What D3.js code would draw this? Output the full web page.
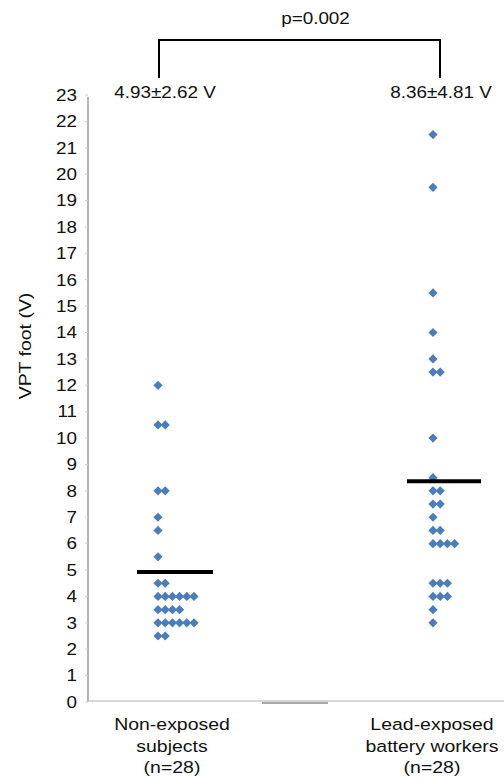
<!DOCTYPE html>
<html>
<head>
<meta charset="utf-8">
<script src="https://cdn.jsdelivr.net/npm/d3@7"></script>
<style>
  body { margin: 0; background: #fff; }
  svg text { font-family: "Liberation Sans", Arial, sans-serif; fill: #111; }
</style>
</head>
<body>
<div id="chart"></div>
<script>
// Data
var groups = ["nonExposed", "leadExposed"];
var groupLabels = [
    ["Non-exposed", "subjects", "(n=28)"],
    ["Lead-exposed", "battery workers", "(n=28)"]
];
var nonExposed = [12, 10.5, 10.5, 8, 8, 7, 6.5, 5.5, 4.5, 4.5,
    4, 4, 4, 4, 4, 4, 3.5, 3.5, 3.5, 3.5,
    3, 3, 3, 3, 3, 3, 2.5, 2.5];
var leadExposed = [21.5, 19.5, 15.5, 14, 13, 12.5, 12.5, 10, 8.5, 8, 8,
    7.5, 7.5, 7, 6.5, 6.5, 6, 6, 6, 6,
    4.5, 4.5, 4.5, 4, 4, 4, 3.5, 3];
var means = [4.93, 8.36];
var sds = [2.62, 4.81];
var pValue = "p=0.002";
var yTicks = d3.range(0, 24);
var yTitle = "VPT foot (V)";

var svgWidth = 504;
var svgHeight = 783;

var svg = d3.select("#chart")
    .append("svg")
    .attr("width", svgWidth)
    .attr("height", svgHeight);

// text in the original is a little wide, stretch it
var stretch = 1.18;

var yScale = d3.scaleLinear()
    .domain([0, 23])
    .range([702, 95]);

// category centres (under the labels)
var xScale = d3.scalePoint()
    .domain(groups)
    .range([172, 432]);

// layout tweaks per group: where the dot column starts, where the mean bar sits
var dotStart = [-14, 1];
var meanShift = [3, 12];
var meanHalf = [38, 37];

var axisColor = "#b4b4b4";

// y axis line + small ticks
svg.append("line")
    .attr("x1", 88).attr("x2", 88)
    .attr("y1", yScale(23) + 2).attr("y2", yScale(0))
    .attr("stroke", axisColor)
    .attr("stroke-width", 2);

svg.selectAll(".tick")
    .data(yTicks)
    .enter()
    .append("line")
    .attr("x1", 85).attr("x2", 88)
    .attr("y1", d => yScale(d)).attr("y2", d => yScale(d))
    .attr("stroke", "#cfcfcf")
    .attr("stroke-width", 1);

svg.selectAll(".ylab")
    .data(yTicks)
    .enter()
    .append("text")
    .attr("transform", d => `translate(77, ${yScale(d)}) scale(${stretch},1)`)
    .attr("dy", "0.36em")
    .attr("text-anchor", "end")
    .style("font-size", "16px")
    .text(d => d);

// x axis line
svg.append("line")
    .attr("x1", 88).attr("x2", svgWidth)
    .attr("y1", yScale(0) - 1).attr("y2", yScale(0) - 1)
    .attr("stroke", "#c8c8c8")
    .attr("stroke-width", 1.5);

svg.append("rect")
    .attr("x", 262).attr("y", yScale(0))
    .attr("width", 66).attr("height", 2)
    .attr("fill", "#a8a8a8");

// y title
svg.append("text")
    .attr("transform", `translate(31, 346) rotate(-90) scale(${stretch},1)`)
    .attr("text-anchor", "middle")
    .style("font-size", "16.5px")
    .text(yTitle);

// dots: values at the same level are laid side by side
var dotGap = 7.2;
var diamond = "M0,-4.6L4.6,0L0,4.6L-4.6,0Z";

[nonExposed, leadExposed].forEach(function(vals, gi) {
    var seen = {};
    var pts = vals.map(function(v) {
        var k = seen[v] || 0;
        seen[v] = k + 1;
        return { v: v, k: k };
    });
    var x0 = xScale(groups[gi]) + dotStart[gi];

    svg.append("g")
        .selectAll("path")
        .data(pts)
        .enter()
        .append("path")
        .attr("d", diamond)
        .attr("transform", d => `translate(${x0 + d.k * dotGap}, ${yScale(d.v)})`)
        .attr("fill", "#4a7dbb");

    // mean bar
    var cx = xScale(groups[gi]) + meanShift[gi];
    svg.append("line")
        .attr("x1", cx - meanHalf[gi]).attr("x2", cx + meanHalf[gi])
        .attr("y1", yScale(means[gi])).attr("y2", yScale(means[gi]))
        .attr("stroke", "#000")
        .attr("stroke-width", 4);

    // category label
    var lab = svg.append("g");
    groupLabels[gi].forEach(function(line, li) {
        lab.append("text")
            .attr("transform", `translate(${xScale(groups[gi])}, ${730 + li * 21.5}) scale(${stretch},1)`)
            .attr("text-anchor", "middle")
            .style("font-size", "16.5px")
            .text(line);
    });

    // mean ± sd
    svg.append("text")
        .attr("transform", `translate(${x0 + 7 + gi * 1}, 98) scale(${stretch},1)`)
        .attr("text-anchor", "middle")
        .style("font-size", "16px")
        .text(`${means[gi].toFixed(2)}±${sds[gi].toFixed(2)} V`);
});

// significance bracket
var bx1 = 159, bx2 = 440;
svg.append("path")
    .attr("d", `M${bx1},78V40H${bx2}V78`)
    .attr("fill", "none")
    .attr("stroke", "#000")
    .attr("stroke-width", 2);

svg.append("text")
    .attr("transform", `translate(${(bx1 + bx2) / 2 + 16}, 24) scale(${stretch},1)`)
    .attr("text-anchor", "middle")
    .style("font-size", "16px")
    .text(pValue);
</script>
</body>
</html>
